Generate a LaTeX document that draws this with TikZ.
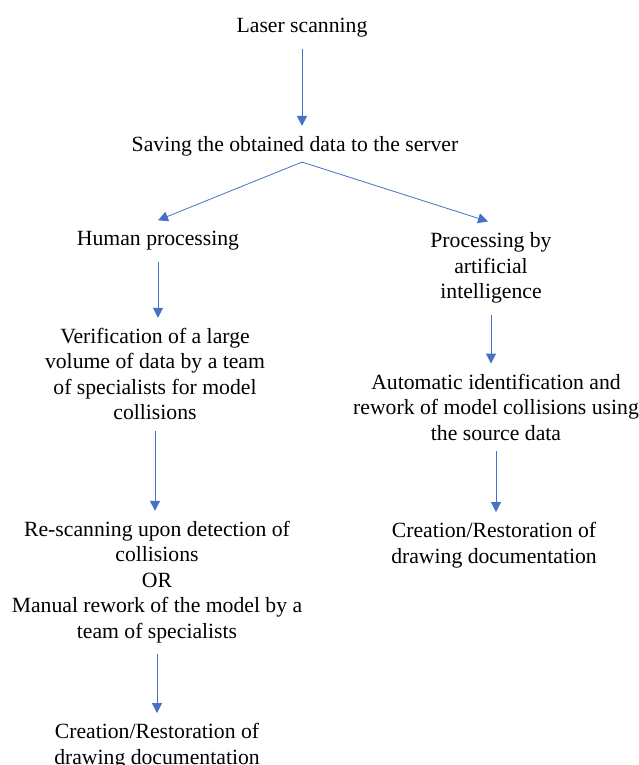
\documentclass[tikz,border=0pt]{standalone}
\usepackage{fontspec}
\setmainfont{Liberation Serif}
\usetikzlibrary{positioning}
\usetikzlibrary{arrows.meta}
\definecolor{flowblue}{HTML}{4472C4}
\tikzset{x=1pt, y=1pt, % One unit is one pixel of the page
stage/.style={ % Sets the properties for each text block
align=center,
inner sep=0pt,
font=\fontsize{21.7}{25.5}\selectfont},
flow/.style={ % Sets the properties for each arrow
draw=flowblue,
line width=1pt,
-{Triangle[width=10pt,length=10pt]},
shorten <=11pt,
shorten >=10pt}}

\begin{document}
\begin{tikzpicture}
\useasboundingbox (0,0) rectangle (638,-765);
\node[stage] (laser) at (302,-28) {Laser scanning};
\node[stage, below of=laser, node distance=118pt, xshift=-7pt] (saving) {Saving the obtained data to the server};
\node[stage, below of=saving, node distance=95pt, xshift=-137pt] (human) {Human processing};
\node[stage, below of=saving, node distance=122pt, xshift=196pt] (ai) {Processing by\\artificial\\intelligence};
\node[stage, below of=human, node distance=133pt, xshift=-3pt] (verify) {Verification of a large\\volume of data by a team\\of specialists for model\\collisions};
\node[stage, below of=verify, node distance=208pt, xshift=2pt] (rescan) {Re-scanning upon detection of\\collisions\\OR\\Manual rework of the model by a\\team of specialists};
\node[stage, below of=rescan, node distance=164pt] (create1) {Creation/Restoration of\\drawing documentation};
\node[stage, below of=ai, node distance=139pt, xshift=5pt] (auto) {Automatic identification and\\rework of model collisions using\\the source data};
\node[stage, below of=auto, node distance=138pt, xshift=-2pt] (create2) {Creation/Restoration of\\drawing documentation};
\coordinate (split) at ([xshift=7pt, yshift=-6pt]saving.south);
\draw[flow] (laser.south) -- (laser.south |- saving.north);
\draw[flow, shorten <=0pt, shorten >=0pt, line width=0.8pt] (split) -- ([yshift=11pt]human.north);
\draw[flow, shorten <=0pt, shorten >=0pt, line width=0.8pt] (split) -- ([xshift=-3pt, yshift=11pt]ai.north);
\draw[flow] (human.south) -- (human.south |- verify.north);
\draw[flow] (verify.south) -- (verify.south |- rescan.north);
\draw[flow] (rescan.south) -- (rescan.south |- create1.north);
\draw[flow] (ai.south) -- (ai.south |- auto.north);
\draw[flow] (auto.south) -- (auto.south |- create2.north);
\end{tikzpicture}
\end{document}
